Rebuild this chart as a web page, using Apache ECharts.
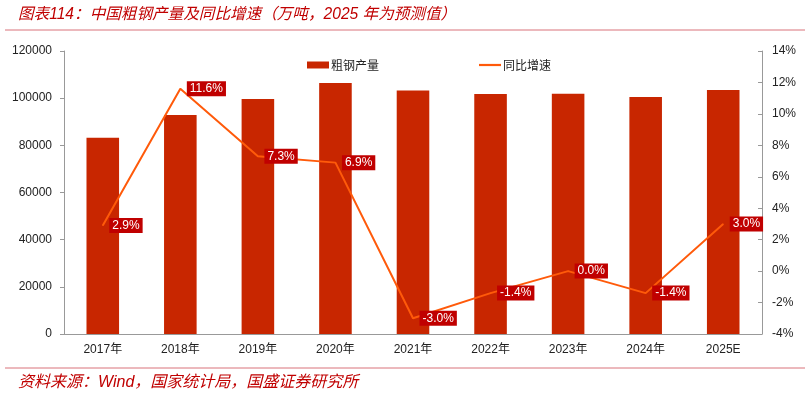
<!DOCTYPE html>
<html><head><meta charset="utf-8">
<script src="https://cdn.jsdelivr.net/npm/echarts@6/dist/echarts.min.js"></script>
<style>html,body{margin:0;padding:0;background:#fff}#c{width:810px;height:393px}</style>
</head><body><div id="c"></div>
<script>
var categories = ['2017年','2018年','2019年','2020年','2021年','2022年','2023年','2024年','2025E'];
var output = [83173, 92826, 99634, 106477, 103279, 101796, 101908, 100509, 103500];
var growth = [2.9, 11.6, 7.3, 6.9, -3.0, -1.4, 0.0, -1.4, 3.0];
var leftTicks = [0, 120000, 20000];
var rightTicks = [-4, 14, 2];

var chart = echarts.init(document.getElementById('c'));
var axisFont = {fontFamily:'Liberation Sans, Arial, Noto Sans CJK SC', fontSize:12, color:'#222'};
chart.setOption({
  animation:false,
  title:[{
    text:'图表114：中国粗钢产量及同比增速（万吨，2025 年为预测值）',
    left:13, top:2,
    textStyle:{color:'#C00000', fontStyle:'italic', fontWeight:'normal', fontSize:15.6, fontFamily:'Liberation Sans, Noto Sans CJK SC'}
  },{
    text:'资料来源：Wind，国家统计局，国盛证券研究所',
    left:13, top:370,
    textStyle:{color:'#C00000', fontStyle:'italic', fontWeight:'normal', fontSize:16, fontFamily:'Liberation Sans, Noto Sans CJK SC'}
  }],
  graphic:[
    {type:'line', shape:{x1:5,y1:30,x2:805,y2:30}, style:{stroke:'#D9737B', lineWidth:1}},
    {type:'line', shape:{x1:5,y1:368,x2:805,y2:368}, style:{stroke:'#D9737B', lineWidth:1}}
  ],
  legend:{
    top:54, left:302, itemGap:100, itemWidth:22, itemHeight:7,
    textStyle:{fontFamily:'Noto Sans CJK SC', fontSize:12, color:'#222', padding:[0,0,0,-3]},
    data:[{name:'粗钢产量', icon:'rect'},{name:'同比增速', icon:'path://M0,0H10V1H0Z'}]
  },
  grid:{left:64, right:48, top:51, bottom:59},
  xAxis:{
    type:'category', data:categories,
    axisLine:{lineStyle:{color:'#999'}},
    axisTick:{inside:true, length:4, lineStyle:{color:'#999'}},
    axisLabel:Object.assign({margin:10}, axisFont)
  },
  yAxis:[{
    type:'value', min:leftTicks[0], max:leftTicks[1], interval:leftTicks[2],
    axisLine:{show:true, lineStyle:{color:'#999'}},
    axisTick:{show:true, length:4, lineStyle:{color:'#999'}},
    splitLine:{show:false},
    axisLabel:Object.assign({margin:12, formatter:function(v){return String(v);}}, axisFont)
  },{
    type:'value', min:rightTicks[0], max:rightTicks[1], interval:rightTicks[2],
    axisLine:{show:true, lineStyle:{color:'#999'}},
    axisTick:{show:true, inside:true, length:4, lineStyle:{color:'#999'}},
    splitLine:{show:false},
    axisLabel:Object.assign({margin:10, formatter:'{value}%'}, axisFont)
  }],
  series:[{
    name:'粗钢产量', type:'bar', data:output, barWidth:'42%',
    itemStyle:{color:'#C82600'}
  },{
    name:'同比增速', type:'line', yAxisIndex:1, data:growth,
    symbol:'circle', symbolSize:1, showSymbol:true,
    lineStyle:{color:'#FF5A0A', width:2}, itemStyle:{color:'#FF5A0A'},
    label:{show:true, position:'right', distance:6, formatter:function(p){return p.value.toFixed(1)+'%';},
      backgroundColor:'#C00000', color:'#fff', padding:[2,3,1,3],
      fontFamily:'Liberation Sans, Arial', fontSize:12}
  }]
});
</script></body></html>
